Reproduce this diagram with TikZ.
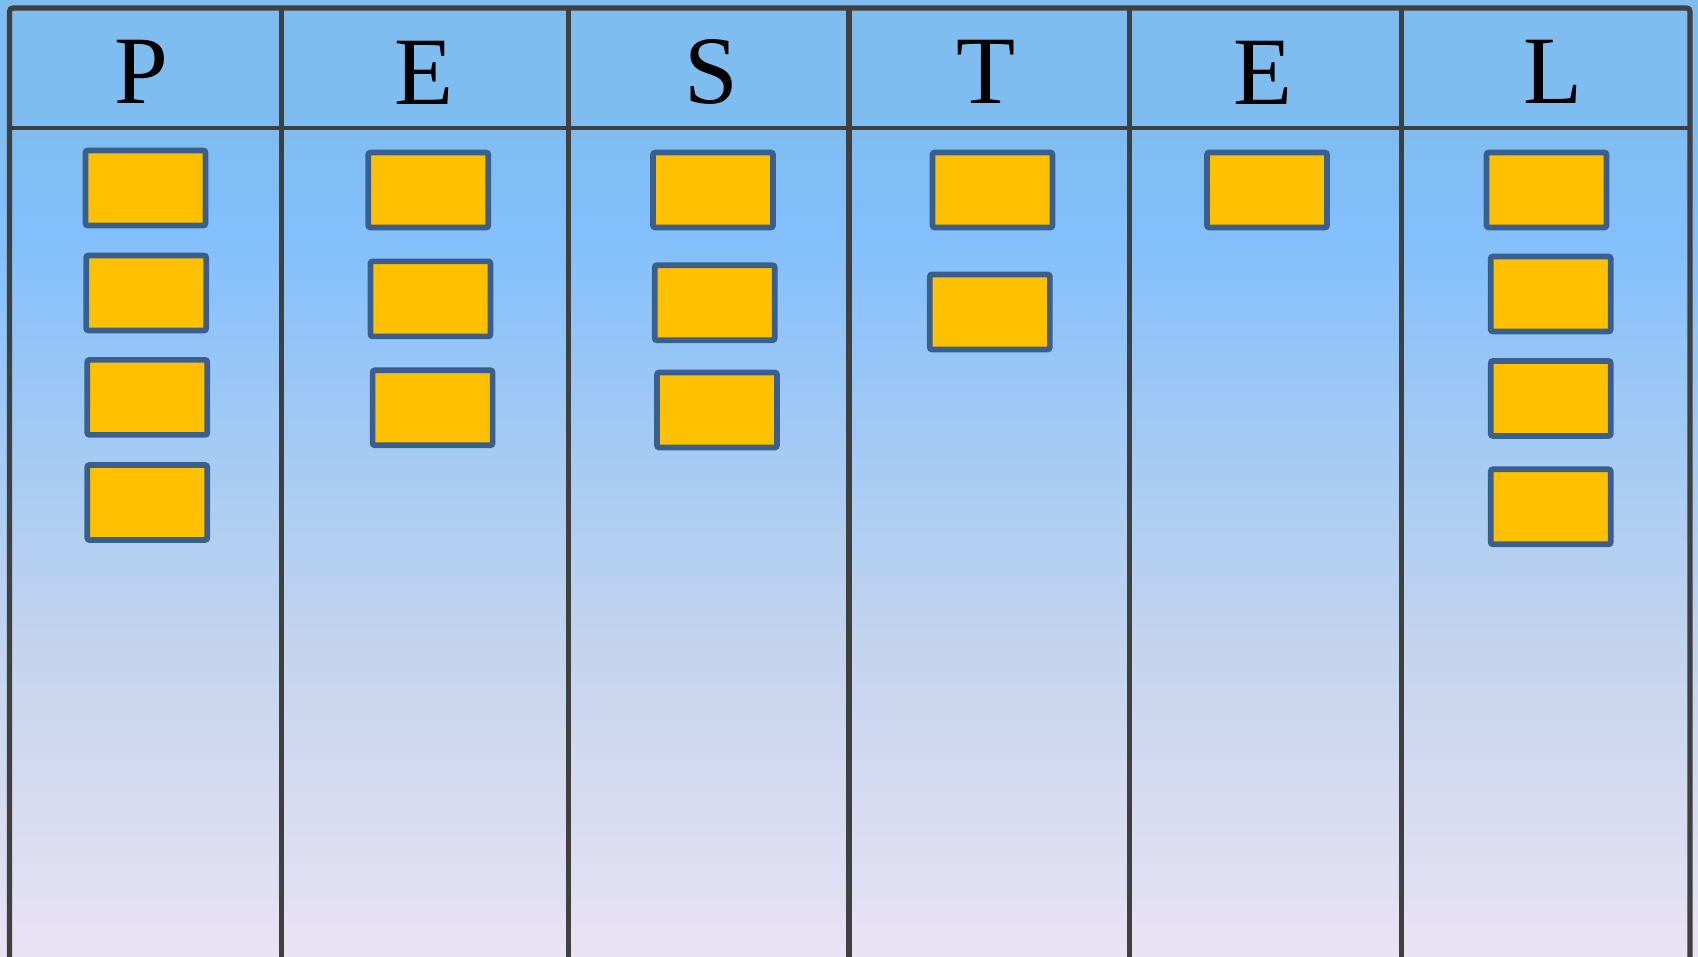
\documentclass[tikz,border=0pt]{standalone}
\usepackage{fontspec}
\setmainfont{Liberation Serif}
\usepackage{xcolor}
\usetikzlibrary{positioning}

\definecolor{boardtop}{RGB}{127,189,241}
\definecolor{boardblue}{RGB}{130,191,252}
\definecolor{boardmid}{RGB}{196,212,237}
\definecolor{boardlow}{RGB}{234,226,245}
\definecolor{noteyellow}{RGB}{255,192,0}
\definecolor{noteedge}{RGB}{58,95,140}
\definecolor{gridgray}{RGB}{64,64,64}

\pgfdeclareverticalshading{boardshade}{100bp}{color(0bp)=(boardlow); color(25bp)=(boardlow); color(41bp)=(boardmid); color(63bp)=(boardblue); color(68bp)=(boardtop); color(75bp)=(boardtop); color(100bp)=(boardtop)}

\begin{document}
\begin{tikzpicture}[
    x=0.2mm, y=-0.2mm,
    grid/.style={draw=gridgray, line width=3pt},
    head/.style={anchor=base, font=\fontsize{55}{62}\selectfont, text=black, inner sep=0pt},
    note/.style={draw=noteedge, fill=noteyellow, line width=3.2pt, rounded corners=1.2pt, minimum width=24mm, minimum height=15mm, inner sep=0pt},
]
    % Board background
    \useasboundingbox (0,0) rectangle (1698,957);
    \shade[shading=boardshade] (0,0) rectangle (1698,957);

    % Frame and columns
    \draw[grid, rounded corners=2pt] (9.5,962) -- (9.5,8) -- (1690,8) -- (1690,962);
    \draw[grid, line width=2.5pt] (9.5,128) -- (1690,128);
    \draw[grid] (281.6,8) -- (281.6,962);
    \draw[grid] (568.5,8) -- (568.5,962);
    \draw[grid] (849,8) -- (849,962);
    \draw[grid] (1129.5,8) -- (1129.5,962);
    \draw[grid] (1401.3,8) -- (1401.3,962);

    % Column headings
    \node[head] (hP) at (141,104) {P};
    \node[head] (hE) at (424,105) {E};
    \node[head] (hS) at (711,104) {S};
    \node[head] (hT) at (986,104) {T};
    \node[head] (hEE) at (1263,105) {E};
    \node[head] (hL) at (1553,104) {L};

    % Notes under P
    \node[note] (p1) at (145.5,188) {};
    \node[note] (p2) at (146.2,293) {};
    \node[note] (p3) at (147.3,397.4) {};
    \node[note] (p4) at (147.3,502.5) {};

    % Notes under E
    \node[note] (e1) at (428.3,190) {};
    \node[note] (e2) at (430.5,298.9) {};
    \node[note] (e3) at (432.6,407.8) {};

    % Notes under S
    \node[note] (s1) at (713,190) {};
    \node[note] (s2) at (714.7,302.7) {};
    \node[note] (s3) at (717,410) {};

    % Notes under T
    \node[note] (t1) at (992.5,190) {};
    \node[note] (t2) at (989.8,312) {};

    % Note under the second E
    \node[note] (ee1) at (1267,190) {};

    % Notes under L
    \node[note] (l1) at (1546.5,190) {};
    \node[note] (l2) at (1550.7,294) {};
    \node[note] (l3) at (1550.7,398.5) {};
    \node[note] (l4) at (1550.7,506.8) {};
\end{tikzpicture}
\end{document}
